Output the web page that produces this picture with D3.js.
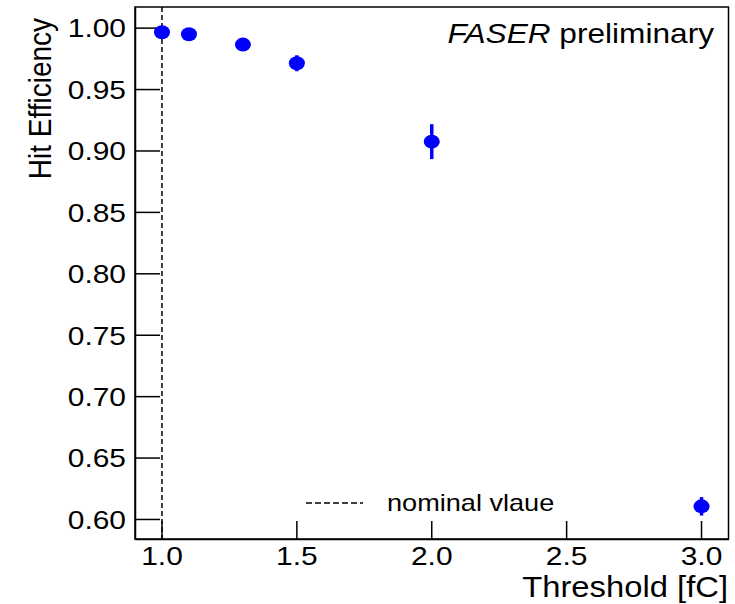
<!DOCTYPE html>
<html>
<head>
<meta charset="utf-8">
<script src="https://cdn.jsdelivr.net/npm/d3@7"></script>
<style>
  body { margin: 0; background: #fff; }
  text { font-family: "Liberation Sans", Arial, sans-serif; fill: #000; }
</style>
</head>
<body>
<div id="wrapper"></div>
<script>
const thresholds = [1.0, 1.1, 1.3, 1.5, 2.0, 3.0];
const efficiency = [0.9963, 0.9946, 0.9862, 0.971, 0.9072, 0.6103];
const efficiencyErr = [0.001, 0.001, 0.002, 0.0065, 0.0142, 0.0075];
const xTicks = [1.0, 1.5, 2.0, 2.5, 3.0];
const yTicks = [0.6, 0.65, 0.7, 0.75, 0.8, 0.85, 0.9, 0.95, 1.0];
const nominalValue = 1.0;

const stretch = 1.13; // the picture is a bit wider than tall

const width = 735;
const height = 604;
const frame = { left: 135, right: 728.5, top: 7, bottom: 539 };

const points = thresholds.map((t, i) => ({
  x: t,
  y: efficiency[i],
  err: efficiencyErr[i],
}));

const svg = d3
  .select("#wrapper")
  .append("svg")
  .attr("width", width)
  .attr("height", height);

const xScale = d3.scaleLinear().domain([0.9, 3.1]).range([frame.left, frame.right]);
const yScale = d3.scaleLinear().domain([0.5837, 1.0168]).range([frame.bottom, frame.top]);

// frame
svg
  .append("rect")
  .attr("x", frame.left)
  .attr("y", frame.top)
  .attr("width", frame.right - frame.left)
  .attr("height", frame.bottom - frame.top)
  .attr("fill", "none")
  .attr("stroke", "#000")
  .attr("stroke-width", 1.5);

// y axis, ticks pointing inside
const yAxis = svg
  .append("g")
  .attr("transform", `translate(${frame.left},0)`)
  .call(
    d3
      .axisLeft(yScale)
      .tickValues(yTicks)
      .tickSizeInner(-25)
      .tickSizeOuter(0)
      .tickPadding(10)
      .tickFormat(d3.format(".2f"))
  );
yAxis.select(".domain").attr("stroke-width", 1.5);
yAxis.selectAll(".tick line").attr("stroke-width", 1.5);
yAxis
  .selectAll("text")
  .attr("x", -9 / stretch)
  .attr("dy", "0.35em")
  .attr("transform", `scale(${stretch},1)`)
  .style("font-size", "26.5px")
  .style("font-family", "Liberation Sans, Arial, sans-serif");

// x axis, ticks pointing inside
const xAxis = svg
  .append("g")
  .attr("transform", `translate(0,${frame.bottom})`)
  .call(
    d3
      .axisBottom(xScale)
      .tickValues(xTicks)
      .tickSizeInner(-18)
      .tickSizeOuter(0)
      .tickPadding(8)
      .tickFormat(d3.format(".1f"))
  );
xAxis.select(".domain").attr("stroke-width", 1.5);
xAxis.selectAll(".tick line").attr("stroke-width", 1.5);
xAxis
  .selectAll(".tick text")
  .attr("y", 26)
  .attr("dy", 0)
  .attr("x", 0)
  .style("font-size", "26.5px")
  .style("font-family", "Liberation Sans, Arial, sans-serif");
// stretch each label around its own tick position
xAxis.selectAll(".tick").each(function (d) {
  const px = xScale(d);
  d3.select(this)
    .attr("transform", null)
    .select("text")
    .attr("transform", `translate(${px},0) scale(${stretch},1)`);
  d3.select(this).select("line").attr("x1", px).attr("x2", px);
});

// nominal value line
svg
  .append("line")
  .attr("x1", xScale(nominalValue))
  .attr("x2", xScale(nominalValue))
  .attr("y1", frame.top)
  .attr("y2", frame.bottom)
  .attr("stroke", "#000")
  .attr("stroke-width", 1.5)
  .attr("stroke-dasharray", "5,3");

// error bars
svg
  .append("g")
  .selectAll("line")
  .data(points)
  .join("line")
  .attr("x1", (d) => xScale(d.x))
  .attr("x2", (d) => xScale(d.x))
  .attr("y1", (d) => yScale(d.y - d.err))
  .attr("y2", (d) => yScale(d.y + d.err))
  .attr("stroke", "#0000ff")
  .attr("stroke-width", 3.5);

// markers
svg
  .append("g")
  .selectAll("ellipse")
  .data(points)
  .join("ellipse")
  .attr("cx", (d) => xScale(d.x))
  .attr("cy", (d) => yScale(d.y))
  .attr("rx", 8)
  .attr("ry", 7)
  .attr("fill", "#0000ff");

// legend
svg
  .append("line")
  .attr("x1", 306)
  .attr("x2", 363)
  .attr("y1", 503)
  .attr("y2", 503)
  .attr("stroke", "#000")
  .attr("stroke-width", 1.5)
  .attr("stroke-dasharray", "6,3");

svg
  .append("text")
  .attr("transform", `translate(387,511) scale(${stretch},1)`)
  .style("font-size", "24px")
  .text("nominal vlaue");

// FASER label
const label = svg
  .append("text")
  .attr("transform", `translate(714,43) scale(${stretch},1)`)
  .style("font-size", "28px")
  .style("text-anchor", "end");
label.append("tspan").style("font-style", "italic").text("FASER");
label.append("tspan").text(" preliminary");

// axis titles
svg
  .append("text")
  .attr("transform", `translate(728,597) scale(${stretch},1)`)
  .style("font-size", "29px")
  .style("text-anchor", "end")
  .text("Threshold [fC]");

svg
  .append("text")
  .attr("transform", `translate(51,18) scale(${stretch},1) rotate(-90)`)
  .style("font-size", "28px")
  .style("text-anchor", "end")
  .text("Hit Efficiency");
</script>
</body>
</html>
